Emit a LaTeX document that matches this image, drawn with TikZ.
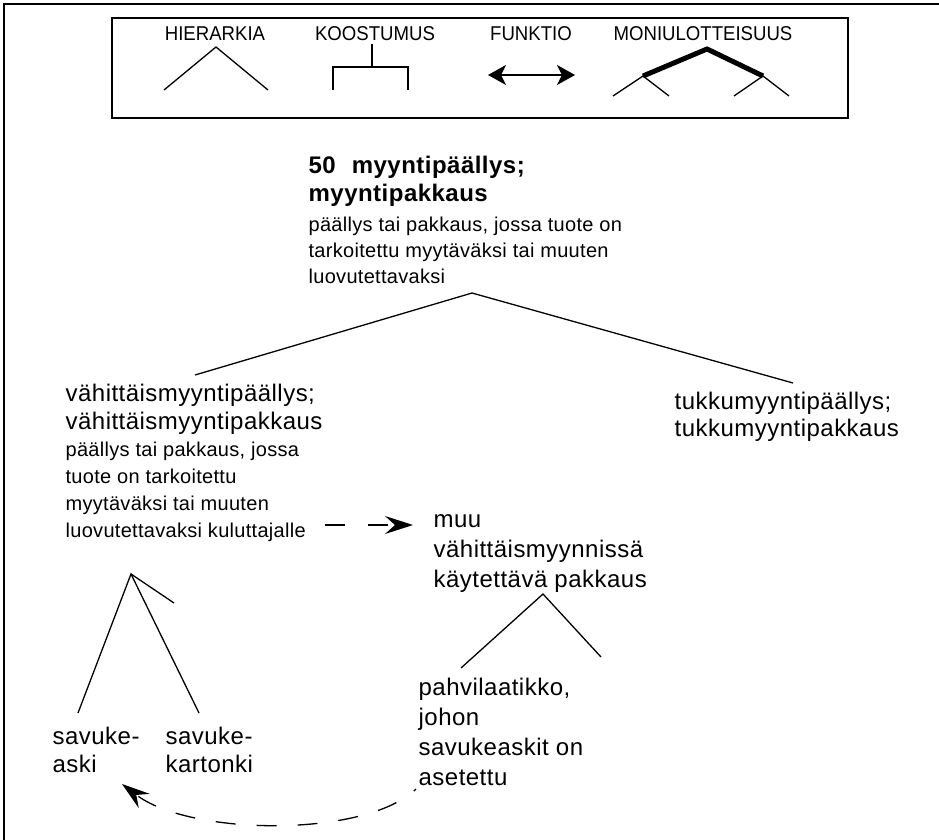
\documentclass[tikz,border=0pt]{standalone}
\usepackage{fontspec}
\setmainfont{Liberation Sans}
\newfontfamily\legendfont[FakeStretch=0.93]{Liberation Sans}
\newfontfamily\termfont[LetterSpace=2]{Liberation Sans}
\newfontfamily\titlefont[LetterSpace=2]{Liberation Sans}
\newfontfamily\deffont[LetterSpace=1.5]{Liberation Sans}
\usetikzlibrary{arrows.meta}
\begin{document}
\begin{tikzpicture}[x=1pt,y=-1pt,line width=1.3pt,
  legend/.style={font=\legendfont\fontsize{20}{24}\selectfont,inner sep=0pt,anchor=base},
  term/.style={font=\termfont\fontsize{24}{28}\selectfont,align=left,inner sep=0pt,anchor=base west},
  termm/.style={font=\termfont\fontsize{24}{27}\selectfont,align=left,inner sep=0pt,anchor=base west},
  termb/.style={font=\termfont\fontsize{24}{30}\selectfont,align=left,inner sep=0pt,anchor=base west},
  ttl/.style={font=\titlefont\bfseries\fontsize{24}{28}\selectfont,align=left,inner sep=0pt,anchor=base west},
  defn/.style={font=\deffont\fontsize{20}{27}\selectfont,align=left,inner sep=0pt,anchor=base west},
  defnt/.style={font=\deffont\fontsize{20}{26}\selectfont,align=left,inner sep=0pt,anchor=base west},
  rel/.style={line width=1.3pt},
  thick rel/.style={line width=5pt},
  frame/.style={line width=1.6pt},
  bigtip/.style={-{Stealth[length=28pt,width=18pt,inset=10pt]}},
  dasharrow/.style={line width=1.3pt,dash pattern=on 20pt off 23pt,bigtip}
]
\useasboundingbox (0,0) rectangle (939,840);
% outer frame (top and left visible)
\coordinate (fa) at (939,4);
\coordinate (fb) at (4,4);
\coordinate (fc) at (4,840);
\draw[frame] (fa) -- (fb) -- (fc);
% legend box
\node[draw,frame,minimum width=736pt,minimum height=100pt,inner sep=0pt] (legbox) at (480,68) {};
\node[legend] (lh) at (215,41) {HIERARKIA};
\node[legend] (lk) at (375,41) {KOOSTUMUS};
\node[legend] (lf) at (531,41) {FUNKTIO};
\node[legend] (lm) at (703,41) {MONIULOTTEISUUS};
% hierarchy symbol
\coordinate (h0) at (216,47);
\coordinate (h1) at (164,90);
\coordinate (h2) at (268,90);
\draw[rel] (h1) -- (h0) -- (h2);
% composition symbol
\coordinate (k0) at (372,44);
\coordinate (k1) at (372,67);
\coordinate (k2) at (333,67);
\coordinate (k3) at (333,90);
\coordinate (k4) at (408,67);
\coordinate (k5) at (408,90);
\draw[rel] (k0) -- (k1);
\draw[rel] (k3) -- (k2) -- (k4) -- (k5);
% function symbol
\coordinate (fu1) at (488,75);
\coordinate (fu2) at (575,75);
\draw[rel,{Stealth[length=18pt,width=20pt,inset=5pt]}-{Stealth[length=18pt,width=20pt,inset=5pt]}] (fu1) -- (fu2);
% multidimensionality symbol
\coordinate (m0) at (707,49);
\coordinate (m1) at (643,76);
\coordinate (m2) at (763,76);
\coordinate (m11) at (613,96);
\coordinate (m12) at (669,96);
\coordinate (m21) at (734,96);
\coordinate (m22) at (789,96);
\draw[thick rel,line join=miter] (m1) -- (m0) -- (m2);
\draw[rel] (m11) -- (m1) -- (m12);
\draw[rel] (m21) -- (m2) -- (m22);
% main concept (anchor = baseline of last line)
\node[ttl] (t50) at (308,201) {50\hspace{16pt}myyntipäällys;\\myyntipakkaus};
\node[defnt] (t50d) at (308,283) {päällys tai pakkaus, jossa tuote on\\tarkoitettu myytäväksi tai muuten\\luovutettavaksi};
\coordinate (a0) at (472,293);
\coordinate (a1) at (195,375);
\coordinate (a2) at (793,383);
\draw[rel] (a1) -- (a0) -- (a2);
% retail
\node[term] (vt) at (65,429) {vähittäismyyntipäällys;\\vähittäismyyntipakkaus};
\node[defn] (vd) at (65,537) {päällys tai pakkaus, jossa\\tuote on tarkoitettu\\myytäväksi tai muuten\\luovutettavaksi kuluttajalle};
% wholesale
\node[termm] (tt) at (674,436) {tukkumyyntipäällys;\\tukkumyyntipakkaus};
% other retail packaging
\node[termb] (mu) at (433,587) {muu\\vähittäismyynnissä\\käytettävä pakkaus};
\coordinate (d1) at (325,525);
\coordinate (d2) at (413,525);
\draw[dasharrow] (d1) -- (d2);
% left tree
\coordinate (b0) at (131,574);
\coordinate (b1) at (78,713);
\coordinate (b2) at (199,713);
\coordinate (b3) at (174,603);
\draw[rel] (b1) -- (b0) -- (b2);
\draw[rel] (b0) -- (b3);
\node[term] (sa) at (52,772) {savuke-\\aski};
\node[term] (sk) at (165,772) {savuke-\\kartonki};
% middle tree
\coordinate (c0) at (543,594);
\coordinate (c1) at (461,668);
\coordinate (c2) at (601,657);
\draw[rel] (c1) -- (c0) -- (c2);
\node[termb] (pa) at (418,785) {pahvilaatikko,\\johon\\savukeaskit on\\asetettu};
% curved dashed arrow
\coordinate (e1) at (416,789);
\coordinate (e2) at (122,784);
\draw[line width=1.3pt,dash pattern=on 20pt off 21pt,dash phase=17pt,bigtip] (e1) .. controls (365,838) and (190,836) .. (e2);
\end{tikzpicture}
\end{document}
